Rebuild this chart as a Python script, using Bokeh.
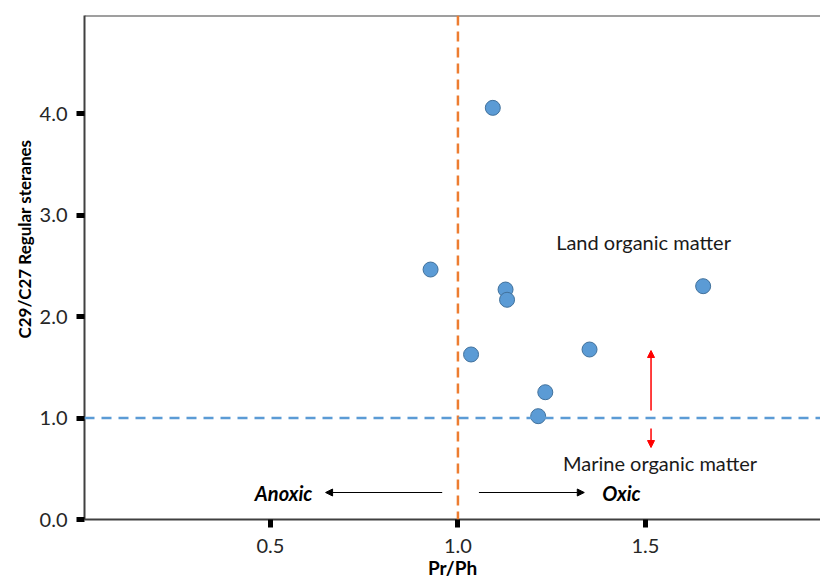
from bokeh.plotting import figure
from bokeh.models import Span, Label, Arrow, NormalHead, Range1d, FixedTicker, Title
from bokeh.embed import file_html
from bokeh.resources import INLINE

# data
pr_ph = [1.093, 0.927, 1.127, 1.131, 1.654, 1.035, 1.351, 1.233, 1.214]
c29_c27 = [4.056, 2.463, 2.266, 2.165, 2.299, 1.626, 1.675, 1.254, 1.018]
x_ticks = [0.5, 1.0, 1.5]
y_ticks = [0.0, 1.0, 2.0, 3.0, 4.0]
x_threshold = 1.0
y_threshold = 1.0

FONT = "Lato"

p = figure(width=820, height=581, output_backend="svg", toolbar_location=None,
           x_range=Range1d(0.004, 1.967), y_range=Range1d(0, 4.966),
           min_border_left=84, min_border_right=0, min_border_top=15, min_border_bottom=62)
p.outline_line_color = None
p.xgrid.visible = False
p.ygrid.visible = False
p.background_fill_color = "white"
p.border_fill_color = "white"

for ax in (p.xaxis[0], p.yaxis[0]):
    ax.axis_line_color = "#404040"
    ax.axis_line_width = 2
    ax.major_tick_line_color = "black"
    ax.major_tick_line_width = 5
    ax.major_tick_out = 8
    ax.major_tick_in = 0
    ax.minor_tick_line_color = None
    ax.major_label_text_font = FONT
    ax.major_label_text_font_size = "20px"
    ax.major_label_text_color = "#262626"

p.xaxis.ticker = FixedTicker(ticks=x_ticks)
p.yaxis.ticker = FixedTicker(ticks=y_ticks)
p.xaxis.major_label_overrides = {v: f"{v:.1f}" for v in x_ticks}
p.yaxis.major_label_overrides = {v: f"{v:.1f}" for v in y_ticks}
p.xaxis.major_label_standoff = 11
p.yaxis.major_label_standoff = 9

p.xaxis.axis_label = "Pr/Ph"
p.xaxis.axis_label_text_font = FONT
p.xaxis.axis_label_text_font_style = "bold"
p.xaxis.axis_label_text_font_size = "19px"
p.xaxis.axis_label_text_color = "black"
p.xaxis.axis_label_standoff = 0

p.add_layout(Title(text="C29/C27 Regular steranes", align="left", offset=181,
                   text_font=FONT, text_font_style="bold", text_font_size="17px",
                   text_color="black", standoff=4), "left")

# top border
p.add_layout(Span(location=4.966, dimension="width", line_color="#404040", line_width=2))

# thresholds
p.add_layout(Span(location=x_threshold, dimension="height", line_color="#ED7D31",
                  line_width=2.5, line_dash="10 6"))
p.add_layout(Span(location=y_threshold, dimension="width", line_color="#5B9BD5",
                  line_width=2.5, line_dash="10 7"))

# points
p.scatter(pr_ph, c29_c27, size=15, fill_color="#5B9BD5", line_color="#41719C", line_width=1)

# annotations
p.add_layout(Label(x=1.495, y=2.73, text="Land organic matter", text_font=FONT,
                   text_font_size="20px", text_align="center", text_baseline="middle",
                   text_color="#1a1a1a"))
p.add_layout(Label(x=1.539, y=0.56, text="Marine organic matter", text_font=FONT,
                   text_font_size="20px", text_align="center", text_baseline="middle",
                   text_color="#1a1a1a"))
p.add_layout(Label(x=0.535, y=0.266, text="Anoxic", text_font=FONT,
                   text_font_style="bold italic", text_font_size="20px",
                   text_align="center", text_baseline="middle", text_color="black"))
p.add_layout(Label(x=1.436, y=0.266, text="Oxic", text_font=FONT,
                   text_font_style="bold italic", text_font_size="20px",
                   text_align="center", text_baseline="middle", text_color="black"))

# arrows
p.add_layout(Arrow(end=NormalHead(size=7, fill_color="black", line_color="black"),
                   x_start=0.958, y_start=0.266, x_end=0.647, y_end=0.266,
                   line_color="black", line_width=1.2))
p.add_layout(Arrow(end=NormalHead(size=7, fill_color="black", line_color="black"),
                   x_start=1.056, y_start=0.266, x_end=1.337, y_end=0.266,
                   line_color="black", line_width=1.2))
p.add_layout(Arrow(end=NormalHead(size=7, fill_color="red", line_color="red"),
                   x_start=1.515, y_start=1.074, x_end=1.515, y_end=1.665,
                   line_color="red", line_width=1.5))
p.add_layout(Arrow(end=NormalHead(size=7, fill_color="red", line_color="red"),
                   x_start=1.515, y_start=0.897, x_end=1.515, y_end=0.709,
                   line_color="red", line_width=1.5))

open("out.html", "w").write(file_html(p, INLINE))
